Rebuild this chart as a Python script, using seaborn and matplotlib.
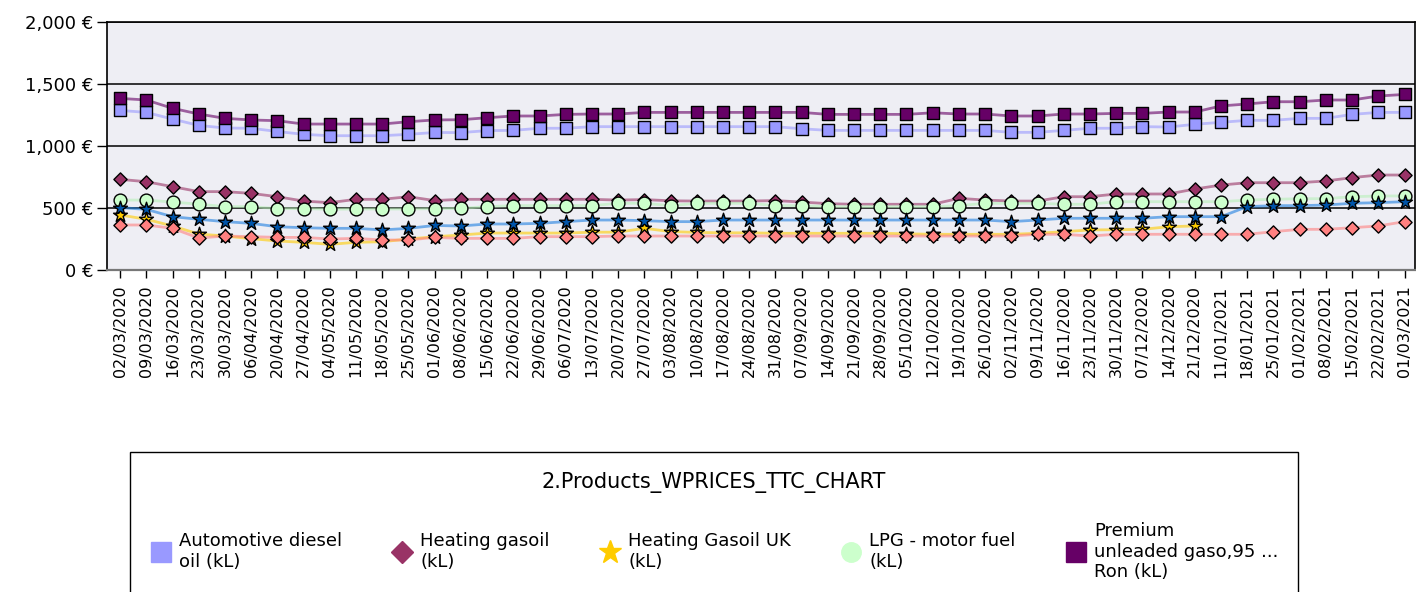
import matplotlib
matplotlib.use("Agg")
import matplotlib.pyplot as plt
from matplotlib.lines import Line2D
from matplotlib.patches import Rectangle
from matplotlib.ticker import FuncFormatter, FixedLocator
import numpy as np
import pandas as pd
import seaborn as sns

# weekly price dates (13/04, 28/12 and 04/01 are missing in the source)
dates = [
    "02/03/2020", "09/03/2020", "16/03/2020", "23/03/2020", "30/03/2020",
    "06/04/2020", "20/04/2020", "27/04/2020", "04/05/2020", "11/05/2020",
    "18/05/2020", "25/05/2020", "01/06/2020", "08/06/2020", "15/06/2020",
    "22/06/2020", "29/06/2020", "06/07/2020", "13/07/2020", "20/07/2020",
    "27/07/2020", "03/08/2020", "10/08/2020", "17/08/2020", "24/08/2020",
    "31/08/2020", "07/09/2020", "14/09/2020", "21/09/2020", "28/09/2020",
    "05/10/2020", "12/10/2020", "19/10/2020", "26/10/2020", "02/11/2020",
    "09/11/2020", "16/11/2020", "23/11/2020", "30/11/2020", "07/12/2020",
    "14/12/2020", "21/12/2020", "11/01/2021", "18/01/2021", "25/01/2021",
    "01/02/2021", "08/02/2021", "15/02/2021", "22/02/2021", "01/03/2021",
]

diesel = [1287, 1271, 1217, 1166, 1145, 1143, 1117, 1094, 1083, 1083,
          1083, 1094, 1109, 1108, 1124, 1126, 1143, 1143, 1156, 1156,
          1156, 1156, 1156, 1156, 1156, 1156, 1139, 1126, 1126, 1126,
          1126, 1126, 1126, 1126, 1110, 1110, 1126, 1143, 1143, 1156,
          1153, 1175, 1191, 1207, 1207, 1223, 1223, 1255, 1271, 1271]

heating_gasoil = [731, 712, 672, 632, 632, 618, 591, 556, 543, 570,
                  570, 591, 560, 570, 570, 570, 570, 570, 570, 564,
                  568, 558, 556, 556, 556, 560, 548, 535, 530, 530,
                  530, 530, 578, 564, 556, 556, 591, 591, 613, 613,
                  613, 653, 685, 704, 704, 704, 718, 745, 766, 766]

heating_gasoil_uk = [444, 409, 355, 290, 274, 253, 234, 223, 207, 223,
                     228, 250, 268, 282, 298, 298, 298, 298, 305, 305,
                     336, 310, 303, 300, 300, 296, 296, 296, 296, 296,
                     292, 288, 288, 288, 288, 296, 309, 323, 325, 328,
                     349, 355, None, None, None, None, None, None, None, None]

lpg = [564, 564, 548, 531, 511, 511, 495, 495, 490, 492,
       492, 492, 495, 497, 511, 519, 519, 519, 519, 538,
       538, 519, 538, 538, 538, 519, 519, 511, 511, 511,
       511, 511, 519, 538, 538, 538, 530, 530, 551, 551,
       551, 551, 551, 564, 570, 575, 575, 591, 597, 597]

premium_95 = [1384, 1371, 1304, 1258, 1223, 1210, 1204, 1177, 1177, 1177,
              1177, 1196, 1210, 1212, 1228, 1242, 1242, 1255, 1258, 1258,
              1271, 1271, 1271, 1271, 1271, 1271, 1271, 1255, 1255, 1255,
              1255, 1268, 1258, 1258, 1242, 1242, 1258, 1258, 1263, 1263,
              1274, 1274, 1323, 1339, 1357, 1357, 1371, 1371, 1403, 1416]

# two more series whose legend entries fall below the visible area
series_6 = [503, 489, 430, 409, 390, 376, 349, 341, 336, 336,
            323, 336, 359, 355, 371, 371, 376, 390, 403, 403,
            398, 390, 390, 403, 403, 403, 403, 403, 403, 403,
            403, 403, 403, 403, 390, 403, 417, 417, 417, 417,
            430, 430, 430, 511, 519, 519, 524, 538, 543, 551]

series_7 = [363, 363, 336, 258, 274, 269, 263, 263, 250, 255,
            242, 242, 263, 255, 255, 255, 269, 269, 269, 274,
            274, 274, 274, 274, 274, 274, 274, 274, 274, 274,
            274, 274, 274, 274, 274, 288, 288, 274, 288, 288,
            288, 288, 288, 288, 309, 328, 328, 341, 355, 390]

legend_title = "2.Products_WPRICES_TTC_CHART"

sns.set_theme(style="white")
plt.rcParams["font.family"] = ["DejaVu Sans"]
plt.rcParams["text.color"] = "black"
plt.rcParams["xtick.color"] = "black"
plt.rcParams["ytick.color"] = "black"

df = pd.DataFrame({
    "week": np.arange(len(dates)),
    "diesel": diesel,
    "heating_gasoil": heating_gasoil,
    "heating_gasoil_uk": pd.to_numeric(pd.Series(heating_gasoil_uk), errors="coerce"),
    "lpg": lpg,
    "premium_95": premium_95,
    "series_6": series_6,
    "series_7": series_7,
})

# column, legend label, line colour, marker colour, marker, marker size (pt^2)
styles = [
    ("diesel", "Automotive diesel\noil (kL)", "#9999FF", "#9999FF", "s", 85),
    ("heating_gasoil", "Heating gasoil\n(kL)", "#993366", "#993366", "D", 45),
    ("heating_gasoil_uk", "Heating Gasoil UK\n(kL)", "#FFCC00", "#FFCC00", "*", 110),
    ("lpg", "LPG - motor fuel\n(kL)", "#B8F0B8", "#CCFFCC", "o", 85),
    ("premium_95", "Premium\nunleaded gaso,95 ...\nRon (kL)", "#660066", "#660066", "s", 85),
    ("series_6", None, "#1E7FE0", "#0055AA", "*", 110),
    ("series_7", None, "#FF8080", "#FF8080", "D", 45),
]

fig = plt.figure(figsize=(14.16, 5.92), dpi=100)
ax = fig.add_axes([107 / 1416, 1 - 270 / 592, (1415 - 107) / 1416, (270 - 22) / 592])
ax.set_facecolor("#EEEEF4")

z = 3
for col, label, lcolor, mcolor, marker, size in styles:
    sns.lineplot(data=df, x="week", y=col, ax=ax, color=lcolor, linewidth=2.0,
                 alpha=0.6, zorder=z)
    sns.scatterplot(data=df, x="week", y=col, ax=ax, color=mcolor, marker=marker,
                    s=size, edgecolor="black", linewidth=1.0, zorder=z + 1)
    z += 2

ax.set_xlim(-0.5, len(dates) - 0.6)
ax.set_ylim(0, 2000)
ax.set_yticks([0, 500, 1000, 1500, 2000])
ax.yaxis.set_major_formatter(FuncFormatter(lambda v, p: f"{v:,.0f} €"))
ax.xaxis.set_major_locator(FixedLocator(np.arange(len(dates))))
ax.set_xticklabels(dates, rotation=90, fontsize=11.5)
ax.tick_params(axis="y", labelsize=13, length=7, width=1, color="black",
               direction="out", left=True, pad=3)
ax.tick_params(axis="x", length=6, width=1, color="black", direction="out",
               bottom=True, pad=5)
ax.set_xlabel("")
ax.set_ylabel("")

ax.yaxis.grid(True, color="black", linewidth=1.1)
ax.set_axisbelow(True)
for side in ["left", "top", "right"]:
    ax.spines[side].set_color("black")
    ax.spines[side].set_linewidth(1.2)
ax.spines["bottom"].set_color("#777777")
ax.spines["bottom"].set_linewidth(1.6)

handles = []
labels = []
for col, label, lcolor, mcolor, marker, size in styles:
    if label is None:
        continue
    ms = 14
    if marker == "*":
        ms = 17
    if marker == "D":
        ms = 11
    handles.append(Line2D([], [], linestyle="none", marker=marker, markersize=ms,
                          markerfacecolor=mcolor, markeredgecolor=mcolor))
    labels.append(label)

# legend frame runs past the bottom edge of the picture
fig.patches.append(Rectangle((130 / 1416, -0.05), 1168 / 1416, 1 - 452 / 592 + 0.05,
                             transform=fig.transFigure, fill=False,
                             edgecolor="black", linewidth=1.0))

leg = fig.legend(handles, labels, loc="upper left",
                 bbox_to_anchor=(130 / 1416, 1 - 452 / 592, 1168 / 1416, 0),
                 mode="expand", ncol=5, title=legend_title, fontsize=13,
                 title_fontsize=15, frameon=False, borderpad=0.6,
                 labelspacing=1.6, handletextpad=0.4, handlelength=1.2)

fig.savefig("out.png", dpi=100)
